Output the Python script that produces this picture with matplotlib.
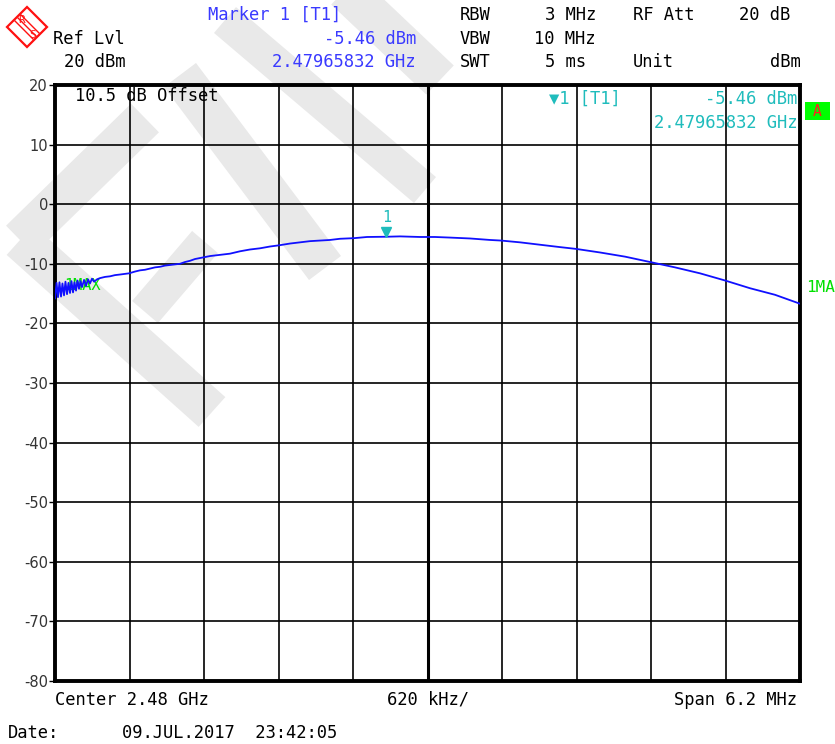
import numpy as np
import matplotlib
matplotlib.use("Agg")
import matplotlib.pyplot as plt
from matplotlib.patches import Polygon, Rectangle
from matplotlib.transforms import offset_copy

plt.rcParams["axes.unicode_minus"] = False

center_ghz = 2.48
span_mhz = 6.2
ref_level = 20
marker_ghz = 2.47965832
marker_dbm = -5.46

# frequency offset from center (MHz) and level (dBm)
freq_mhz = [-3.100, -3.087, -3.075, -3.063, -3.050, -3.038, -3.025, -3.013,
            -3.000, -2.988, -2.975, -2.963, -2.950, -2.938, -2.925, -2.913,
            -2.900, -2.888, -2.875, -2.858, -2.842, -2.825, -2.809, -2.792,
            -2.775, -2.750, -2.725, -2.684, -2.642, -2.601, -2.559, -2.484,
            -2.434, -2.393, -2.351, -2.309, -2.268, -2.226, -2.185, -2.143,
            -2.060, -2.018, -1.977, -1.935, -1.860, -1.810, -1.727, -1.644,
            -1.560, -1.477, -1.394, -1.311, -1.236, -1.144, -1.061, -0.978,
            -0.895, -0.811, -0.728, -0.612, -0.503, -0.342, -0.229, -0.146,
            -0.062, 0.062, 0.187, 0.354, 0.520, 0.612, 0.770, 0.936,
            1.103, 1.236, 1.436, 1.644, 1.852, 2.060, 2.268, 2.476,
            2.684, 2.892, 3.100]
level_dbm = [-15.8, -13.2, -15.6, -13.1, -15.5, -13.3, -15.3, -13.0,
             -15.1, -13.2, -14.9, -12.9, -14.8, -13.1, -14.5, -12.8,
             -14.2, -12.9, -13.9, -12.7, -13.7, -12.6, -13.3, -12.5,
             -13.0, -12.6, -12.4, -12.2, -12.1, -11.9, -11.8, -11.6,
             -11.3, -11.1, -11.0, -10.8, -10.6, -10.5, -10.3, -10.2,
             -10.0, -9.7, -9.5, -9.2, -8.9, -8.7, -8.5, -8.3,
             -7.9, -7.6, -7.4, -7.1, -6.9, -6.6, -6.4, -6.2,
             -6.1, -6.0, -5.8, -5.7, -5.5, -5.46, -5.4, -5.45,
             -5.5, -5.5, -5.6, -5.75, -6.0, -6.1, -6.4, -6.8,
             -7.2, -7.5, -8.1, -8.8, -9.7, -10.6, -11.6, -12.8,
             -14.1, -15.2, -16.7]

W, H = 835, 744
fig = plt.figure(figsize=(W / 100, H / 100), dpi=100)
fig.patch.set_facecolor("white")

mono = ["DejaVu Sans Mono", "DejaVu Sans"]
blue_txt = "#3a3aff"
cyan = "#1fbcbc"
green = "#00e000"
fs = 12.3


def px(x, y):
    return x / W, 1 - y / H


def put(x, y, s, color="black", ha="left", size=fs, **kw):
    fig.text(*px(x, y), s, color=color, ha=ha, va="center", size=size,
             family=mono, **kw)


def band(x0, y0, x1, y1, w):
    d = np.array([x1 - x0, y1 - y0], float)
    n = np.array([-d[1], d[0]]) / np.hypot(*d) * w / 2
    pts = [(x0 + n[0], y0 + n[1]), (x1 + n[0], y1 + n[1]),
           (x1 - n[0], y1 - n[1]), (x0 - n[0], y0 - n[1])]
    pts = [(x, H - y) for x, y in pts]
    fig.add_artist(Polygon(pts, closed=True, transform=None,
                           facecolor="#e9e9e9", edgecolor="none", zorder=-5))


# watermark
band(225, 20, 425, 190, 34)
band(180, 75, 325, 268, 40)
band(20, 240, 145, 118, 40)
band(20, 240, 212, 412, 40)
band(145, 312, 205, 242, 34)
band(345, -10, 440, 80, 40)

ax = fig.add_axes([55 / W, 1 - 681 / H, 745 / W, 596 / H])
ax.set_facecolor("none")
ax.set_xlim(-span_mhz / 2, span_mhz / 2)
ax.set_ylim(ref_level - 100, ref_level)
ax.set_xticks(np.linspace(-span_mhz / 2, span_mhz / 2, 11))
ax.set_yticks(range(-80, 21, 10))
ax.grid(True, color="black", lw=1.2)
ax.axvline(0, color="black", lw=2.2)
for s in ax.spines.values():
    s.set_linewidth(2.8)
ax.tick_params(axis="x", length=0, labelbottom=False)
ax.tick_params(axis="y", length=4, width=1, pad=1, labelsize=10.5,
               labelcolor="#333333")

ax.text(0.012, 0.663, "1MAX", transform=ax.transAxes, color=green,
        size=11, family=mono, va="center", zorder=1)
ax.plot(freq_mhz, level_dbm, color="#1010ff", lw=1.3, zorder=3)

mx = (marker_ghz - center_ghz) * 1000
tri = offset_copy(ax.transData, fig=fig, y=5, units="dots")
ax.plot(mx, marker_dbm, marker="v", ms=7, color=cyan, transform=tri, zorder=4)
lab = offset_copy(ax.transData, fig=fig, y=19, units="dots")
ax.text(mx, marker_dbm, "1", transform=lab, color=cyan, ha="center",
        va="center", size=11, family=mono)

ax.text(0.027, 0.981, "10.5 dB Offset", transform=ax.transAxes, size=fs,
        family=mono, va="center")
ax.text(0.663, 0.977, "▼1 [T1]", transform=ax.transAxes, size=fs,
        family=mono, va="center", color=cyan)
ax.text(0.996, 0.977, "-5.46 dBm", transform=ax.transAxes, size=fs,
        family=mono, va="center", ha="right", color=cyan)
ax.text(0.996, 0.936, "2.47965832 GHz", transform=ax.transAxes, size=fs,
        family=mono, va="center", ha="right", color=cyan)

# header
put(208, 15, "Marker 1 [T1]", blue_txt)
put(416, 39, "-5.46 dBm", blue_txt, ha="right")
put(416, 62, "2.47965832 GHz", blue_txt, ha="right")
put(53, 39, "Ref Lvl")
put(64, 62, "20 dBm")
put(460, 15, "RBW")
put(460, 39, "VBW")
put(460, 62, "SWT")
put(596, 15, "3 MHz", ha="right")
put(596, 39, "10 MHz", ha="right")
put(586, 62, "5 ms", ha="right")
put(633, 15, "RF Att")
put(633, 62, "Unit")
put(790, 15, "20 dB", ha="right")
put(801, 62, "dBm", ha="right")

# logo
d = [(27, 7), (47, 27), (27, 47), (7, 27)]
fig.add_artist(Polygon([(x, H - y) for x, y in d], closed=True, transform=None,
                       facecolor="none", edgecolor="#ff1010", lw=1.6))
for k in (-3, 0, 3):
    fig.add_artist(plt.Line2D([18 + k, 36 + k], [H - (18 - k), H - (36 - k)],
                              transform=None, color="#ff1010", lw=1))
put(22, 20, "R", "#ff1010", ha="center", size=8)
put(33, 35, "S", "#ff1010", ha="center", size=8)

# side labels
fig.add_artist(Rectangle((805, H - 120), 25, 18, transform=None,
                         facecolor="#00ff00", edgecolor="none"))
put(817, 111, "A", "#ff2020", ha="center", size=10.5)
put(806, 287, "1MA", green, size=11.5)

# footer
put(55, 700, "Center 2.48 GHz")
put(428, 700, "620 kHz/", ha="center")
put(797, 700, "Span 6.2 MHz", ha="right")
put(8, 733, "Date:")
put(122, 733, "09.JUL.2017  23:42:05")

fig.savefig("out.png", dpi=100)
